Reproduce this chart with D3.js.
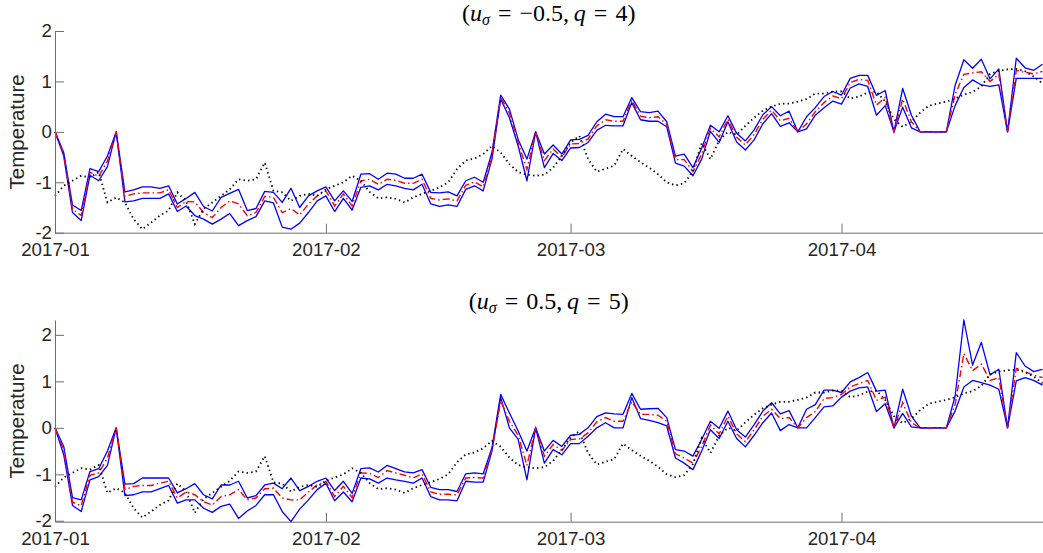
<!DOCTYPE html>
<html>
<head>
<meta charset="utf-8">
<script src="https://cdn.jsdelivr.net/npm/d3@7"></script>
<style>
  body { margin: 0; background: #fff; }
  svg { display: block; }
  .tick text { font-family: "Liberation Sans", Arial, sans-serif; font-size: 18.7px; fill: #262626; }
  .ylabel { font-family: "Liberation Sans", Arial, sans-serif; font-size: 20.5px; fill: #262626; }
  .title { font-family: "Liberation Serif", "DejaVu Serif", serif; font-size: 24px; fill: #000; }
</style>
</head>
<body>
<svg id="chart" width="1043" height="553"></svg>
<script>
// daily series, 2017-01-01 .. 2017-04-24
const startDay = new Date(2017, 0, 1);
const endDay = new Date(2017, 3, 24);
const monthTicks = [new Date(2017, 0, 1), new Date(2017, 1, 1), new Date(2017, 2, 1), new Date(2017, 3, 1)];
const yTicks = [-2, -1, 0, 1, 2];

// observed temperature (black dotted), same in both panels
const observed = [
  -1.27, -1.07, -0.97, -0.87, -0.9, -0.8, -1.4, -1.3, -1.4, -1.73,
  -1.93, -1.8, -1.66, -1.56, -1.2, -1.37, -1.83, -1.53, -1.4, -1.27,
  -1.14, -0.94, -0.97, -0.94, -0.61, -1.17, -1.2, -1.37, -1.27, -1.23,
  -1.27, -1.14, -1.07, -1.0, -0.87, -0.97, -1.19, -1.32, -1.3, -1.33,
  -1.4, -1.3, -1.23, -1.17, -1.1, -1.0, -0.74, -0.57, -0.53, -0.44,
  -0.28, -0.41, -0.64, -0.8, -0.85, -0.87, -0.85, -0.71, -0.48, -0.21,
  -0.08, -0.54, -0.79, -0.73, -0.67, -0.34, -0.48, -0.6, -0.71, -0.84,
  -1.0, -1.06, -1.02, -0.78, -0.22, -0.54, -0.17, 0.0, -0.06, 0.12,
  0.28, 0.42, 0.5, 0.56, 0.56, 0.6, 0.65, 0.76, 0.76, 0.8,
  0.8, 0.66, 0.7, 0.78, 0.8, 0.6, 0.25, 0.1, 0.2, 0.38,
  0.52, 0.56, 0.6, 0.66, 0.74, 0.79, 0.9, 1.15, 1.21, 1.24,
  1.25, 1.2, 1.1, 0.96
];

// panel 1 (u_sigma = -0.5, q = 4)
const upperA = [
  0, -0.41, -1.45, -1.56, -0.73, -0.79, -0.48, 0, -1.19, -1.15,
  -1.09, -1.09, -1.12, -1.07, -1.43, -1.32, -1.2, -1.48, -1.57, -1.3,
  -1.22, -1.14, -1.56, -1.52, -1.18, -1.2, -1.4, -1.12, -1.5, -1.27,
  -1.17, -1.09, -1.37, -1.17, -1.38, -0.84, -0.83, -0.94, -0.82, -0.84,
  -0.92, -0.92, -0.84, -1.2, -1.21, -1.19, -1.27, -0.97, -0.9, -1.0,
  -0.41, 0.73, 0.45, -0.15, -0.54, 0, -0.44, -0.26, -0.44, -0.16,
  -0.15, -0.07, 0.2, 0.35, 0.3, 0.3, 0.68, 0.4, 0.38, 0.41,
  0.2, -0.48, -0.44, -0.71, -0.32, 0.13, 0.0, 0.32, -0.03, -0.18,
  0.04, 0.34, 0.5, 0.32, 0.41, 0, 0.3, 0.48, 0.7, 0.8,
  0.73, 1.06, 1.12, 1.12, 0.72, 0.82, 0, 0.86, 0.33, 0,
  0, 0, 0, 0.92, 1.43, 1.26, 1.44, 1.05, 1.25, 0,
  1.46, 1.27, 1.22, 1.34
];
const lowerA = [
  0, -0.48, -1.6, -1.76, -0.86, -0.97, -0.69, 0, -1.39, -1.37,
  -1.32, -1.32, -1.32, -1.23, -1.58, -1.47, -1.66, -1.73, -1.83, -1.73,
  -1.62, -1.86, -1.76, -1.68, -1.37, -1.41, -1.89, -1.93, -1.81, -1.6,
  -1.37, -1.27, -1.58, -1.32, -1.55, -1.1, -1.07, -1.15, -1.04, -1.07,
  -1.12, -1.15, -1.04, -1.43, -1.48, -1.45, -1.48, -1.14, -1.07, -1.17,
  -0.54, 0.65, 0.28, -0.28, -0.97, 0, -0.71, -0.43, -0.57, -0.32,
  -0.31, -0.21, 0.03, 0.13, 0.12, 0.12, 0.58, 0.24, 0.21, 0.21,
  0.1, -0.62, -0.68, -0.87, -0.54, 0.01, -0.21, 0.2, -0.2, -0.36,
  -0.16, 0.16, 0.36, 0.11, 0.18, 0, 0.06, 0.33, 0.48, 0.61,
  0.55, 0.87, 0.95, 0.9, 0.33, 0.52, 0, 0.49, 0.08, 0,
  0, 0, 0, 0.52, 0.88, 1.03, 0.93, 0.9, 0.93, 0,
  1.06, 1.06, 1.06, 1.06
];
const meanA = [
  0, -0.44, -1.53, -1.66, -0.8, -0.88, -0.58, 0, -1.28, -1.23,
  -1.21, -1.21, -1.21, -1.15, -1.5, -1.38, -1.39, -1.6, -1.7, -1.5,
  -1.37, -1.43, -1.66, -1.6, -1.28, -1.3, -1.6, -1.52, -1.65, -1.43,
  -1.27, -1.17, -1.47, -1.23, -1.47, -0.97, -0.94, -1.04, -0.94, -0.96,
  -1.02, -1.02, -0.94, -1.32, -1.35, -1.33, -1.37, -1.06, -0.99, -1.09,
  -0.48, 0.69, 0.37, -0.21, -0.75, 0, -0.57, -0.34, -0.5, -0.24,
  -0.23, -0.14, 0.12, 0.24, 0.21, 0.21, 0.63, 0.31, 0.28, 0.3,
  0.15, -0.55, -0.55, -0.79, -0.44, 0.07, -0.1, 0.25, -0.11, -0.26,
  -0.05, 0.25, 0.43, 0.22, 0.27, 0, 0.16, 0.4, 0.58, 0.71,
  0.66, 0.98, 1.04, 1.02, 0.53, 0.68, 0, 0.65, 0.2, 0,
  0, 0, 0, 0.74, 1.14, 1.17, 1.19, 1.0, 1.14, 0,
  1.22, 1.18, 1.15, 1.2
];

// panel 2 (u_sigma = 0.5, q = 5)
const upperB = [
  0, -0.4, -1.5, -1.55, -0.94, -0.88, -0.5, 0, -1.21, -1.2,
  -1.08, -1.08, -1.08, -1.08, -1.4, -1.31, -1.2, -1.44, -1.53, -1.23,
  -1.23, -1.15, -1.51, -1.46, -1.23, -1.19, -1.31, -1.08, -1.35, -1.26,
  -1.15, -1.08, -1.35, -1.15, -1.41, -0.88, -0.86, -0.95, -0.81, -0.88,
  -0.95, -0.97, -0.9, -1.28, -1.33, -1.33, -1.37, -0.99, -0.97, -0.99,
  -0.43, 0.72, 0.32, -0.07, -0.5, 0, -0.5, -0.27, -0.4, -0.16,
  -0.14, 0.0, 0.24, 0.32, 0.3, 0.29, 0.74, 0.4, 0.41, 0.42,
  0.22, -0.47, -0.5, -0.61, -0.25, 0.14, -0.01, 0.36, -0.04, -0.2,
  0.07, 0.36, 0.54, 0.3, 0.37, 0, 0.4, 0.5, 0.81, 0.81,
  0.76, 0.99, 1.08, 1.19, 0.79, 0.81, 0, 0.83, 0.25, 0,
  0, 0, 0, 0.68, 2.32, 1.35, 1.84, 1.14, 1.26, 0,
  1.62, 1.33, 1.21, 1.26
];
const lowerB = [
  0, -0.58, -1.67, -1.8, -1.12, -1.05, -0.81, 0, -1.46, -1.44,
  -1.38, -1.38, -1.31, -1.24, -1.62, -1.55, -1.55, -1.73, -1.82, -1.69,
  -1.64, -1.95, -1.79, -1.67, -1.44, -1.44, -1.8, -2.02, -1.75, -1.55,
  -1.33, -1.19, -1.57, -1.38, -1.59, -1.08, -1.1, -1.19, -1.08, -1.12,
  -1.15, -1.19, -1.08, -1.48, -1.55, -1.55, -1.57, -1.15, -1.17, -1.17,
  -0.5, 0.65, 0.0, -0.25, -1.12, 0, -0.76, -0.47, -0.58, -0.34,
  -0.34, -0.18, 0.0, 0.11, 0.0, 0.0, 0.65, 0.2, 0.16, 0.11,
  0.04, -0.65, -0.76, -0.9, -0.5, -0.04, -0.23, 0.14, -0.23, -0.41,
  -0.16, 0.11, 0.32, -0.06, 0.07, 0, 0.0, 0.22, 0.45, 0.47,
  0.66, 0.79, 0.86, 0.88, 0.35, 0.52, 0, 0.31, 0.02, 0,
  0, 0, 0, 0.36, 0.88, 1.02, 0.97, 0.92, 0.83, 0,
  1.01, 1.08, 1.02, 0.92
];
const meanB = [
  0, -0.48, -1.6, -1.68, -1.02, -0.97, -0.65, 0, -1.33, -1.26,
  -1.24, -1.24, -1.19, -1.15, -1.51, -1.38, -1.44, -1.59, -1.66, -1.48,
  -1.44, -1.33, -1.55, -1.51, -1.31, -1.3, -1.51, -1.55, -1.55, -1.38,
  -1.23, -1.15, -1.48, -1.26, -1.5, -0.97, -0.98, -1.07, -0.92, -0.97,
  -1.02, -1.08, -0.99, -1.38, -1.43, -1.43, -1.44, -1.08, -1.07, -1.08,
  -0.47, 0.58, 0.14, -0.16, -0.81, 0, -0.61, -0.36, -0.49, -0.25,
  -0.24, -0.11, 0.13, 0.22, 0.14, 0.14, 0.56, 0.29, 0.29, 0.27,
  0.14, -0.56, -0.65, -0.76, -0.4, 0.06, -0.13, 0.25, -0.13, -0.3,
  -0.04, 0.25, 0.4, 0.2, 0.22, 0, 0.22, 0.35, 0.63, 0.65,
  0.72, 0.88, 0.95, 1.02, 0.59, 0.66, 0, 0.54, 0.11, 0,
  0, 0, 0, 0.5, 1.6, 1.23, 1.37, 1.02, 1.08, 0,
  1.28, 1.21, 1.13, 1.08
];

const dates = d3.timeDay.range(startDay, d3.timeDay.offset(endDay, 1));

const svg = d3.select("#chart");
const left = 55, right = 1042.5;

const panels = [
  { top: 31, bottom: 232.7, domain: [-2, 2], upper: upperA, lower: lowerA, mean: meanA,
    title: { sub: "σ", val: "−0.5", q: "4" }, titleY: 21 },
  { top: 320, bottom: 521.7, domain: null, upper: upperB, lower: lowerB, mean: meanB,
    title: { sub: "σ", val: "0.5", q: "5" }, titleY: 309 }
];

const x = d3.scaleTime().domain([startDay, endDay]).range([left, right]);

panels.forEach(p => {
  const dom = p.domain || d3.extent([].concat(p.upper, p.lower, p.mean, observed));
  const y = d3.scaleLinear().domain(dom).range([p.bottom, p.top]);
  const g = svg.append("g");

  const line = d3.line()
    .x((d, i) => x(dates[i]))
    .y(d => y(d));

  //series
  g.append("path").datum(p.upper).attr("d", line)
    .attr("fill", "none").attr("stroke", "#0000ff").attr("stroke-width", 1.3).attr("stroke-linejoin", "round");
  g.append("path").datum(p.lower).attr("d", line)
    .attr("fill", "none").attr("stroke", "#0000ff").attr("stroke-width", 1.3).attr("stroke-linejoin", "round");
  g.append("path").datum(p.mean).attr("d", line)
    .attr("fill", "none").attr("stroke", "#ff0000").attr("stroke-width", 1.4)
    .attr("stroke-dasharray", "7,3,1.5,3");
  g.append("path").datum(observed).attr("d", line)
    .attr("fill", "none").attr("stroke", "#000").attr("stroke-width", 1.8)
    .attr("stroke-dasharray", "1.4,3.2");

  //x axis
  const xAxis = d3.axisBottom(x)
    .tickValues(monthTicks)
    .tickFormat(d3.timeFormat("%Y-%m"))
    .tickSizeInner(-9).tickSizeOuter(0).tickPadding(10);
  g.append("g").attr("transform", `translate(0,${p.bottom})`).call(xAxis)
    .call(a => a.selectAll("path, line").attr("stroke", "#6e6e6e"));

  //y axis
  const yAxis = d3.axisLeft(y)
    .tickValues(yTicks)
    .tickFormat(d => String(d))
    .tickSizeInner(-9).tickSizeOuter(0).tickPadding(3);
  g.append("g").attr("transform", `translate(${left},0)`).call(yAxis)
    .call(a => a.selectAll("path, line").attr("stroke", "#6e6e6e"));

  //labels
  g.append("text").attr("class", "ylabel")
    .attr("transform", `translate(24,${(p.top + p.bottom) / 2}) rotate(-90)`)
    .attr("text-anchor", "middle")
    .text("Temperature");

  const t = g.append("text").attr("class", "title")
    .attr("x", (left + right) / 2).attr("y", p.titleY)
    .attr("text-anchor", "middle");
  t.append("tspan").text("(");
  t.append("tspan").attr("font-style", "italic").text("u");
  t.append("tspan").attr("font-style", "italic").attr("font-size", "16px").attr("dy", 4).text(p.title.sub);
  t.append("tspan").attr("dy", -4).text("\u2004=\u2004" + p.title.val + ",\u2009");
  t.append("tspan").attr("font-style", "italic").text("q");
  t.append("tspan").text("\u2004=\u2004" + p.title.q + ")");
});
</script>
</body>
</html>
